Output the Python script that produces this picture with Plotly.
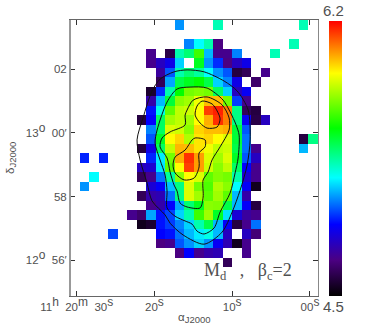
import numpy as np
import plotly.graph_objects as go

_ = None

# RA seconds (after 11h 20m) and Dec arcmin (relative to 13 00) of the cell centres
ra_cells = 30.25 - 1.229 * np.arange(26)
dec_cells = 3.40 - 0.2996 * np.arange(29)

# log column density per cell, top row first
z_rows = [
    [_]*11 + [5.11, _, _, _, 5.32] + [_]*8 + [5.32, _],
    [_]*26,
    [_]*12 + [5.09, 5.23, 5.33, 4.72] + [_]*7 + [5.32, _, _],
    [_]*8 + [4.74, _, 4.62, 5.33, 5.40, 5.62, 5.15, 4.74, 4.74, 5.09, _, _, _, 5.32] + [_]*4,
    [_]*8 + [4.74, 4.83, 4.90, 5.18, _, 5.50, 5.11, 4.99, 4.72, 4.83, 4.90] + [_]*7,
    [_]*9 + [4.77, 5.04, 5.33, 5.40, 5.35, 5.23, 5.11, 5.04, 4.61, 4.65, _, 4.74] + [_]*5,
    [_]*9 + [4.65, 5.13, 5.45, 5.50, 5.54, 5.45, 5.18, 5.09, 4.90, _, 4.68] + [_]*6,
    [_]*8 + [4.58, 4.99, 5.33, 5.54, 5.69, 5.71, 5.69, 5.42, 5.18, 4.83, 4.92] + [_]*7,
    [_]*8 + [4.79, 5.15, 5.47, 5.72, 5.75, 5.86, 5.96, 5.96, 5.69, 5.01, 4.74] + [_]*7,
    [_]*8 + [4.96, 5.26, 5.66, 5.79, 5.81, 5.88, 6.12, 6.16, 6.04, 5.38, 4.65, 4.61] + [_]*6,
    [_]*7 + [4.61, 4.94, 5.42, 5.75, 5.79, 5.75, 5.88, 5.98, 6.14, 6.04, 5.38, 4.92, 4.62, 4.83] + [_]*5,
    [_]*8 + [5.09, 5.42, 5.83, 5.81, 5.72, 5.93, 5.96, 5.96, 5.98, 5.47, 5.04] + [_]*7,
    [_]*8 + [5.04, 5.49, 5.88, 5.93, 5.77, 5.91, 5.93, 5.88, 5.83, 5.47, 5.07] + [_]*5 + [4.61, 5.38],
    [_]*7 + [4.61, 4.90, 5.42, 5.79, 5.97, 5.96, 5.91, 5.86, 5.79, 5.81, 5.45, 5.07, 4.74] + [_]*4 + [5.15, _],
    [_, 4.98, _, 4.98] + [_]*4 + [4.98, 5.21, 5.69, 5.98, 6.14, 6.00, 5.83, 5.75, 5.83, 5.49, 5.04, 4.83] + [_]*6,
    [_]*7 + [4.83, 4.86, 5.20, 5.66, 5.88, 6.12, 6.00, 5.81, 5.72, 5.79, 5.42, 4.94, 4.74] + [_]*6,
    [_, _, 5.23] + [_]*4 + [4.65, 4.74, 5.07, 5.35, 5.72, 5.88, 5.83, 5.66, 5.71, 5.69, 5.33, 4.86, 4.74] + [_]*6,
    [_, 5.11] + [_]*6 + [4.87, 4.93, 5.16, 5.38, 5.83, 5.69, 5.64, 5.77, 5.72, 5.23, 4.93, 4.55] + [_]*6,
    [_]*7 + [4.65, 4.79, 4.81, 5.07, 5.38, 5.83, 5.75, 5.66, 5.75, 5.66, 5.15, 4.79] + [_]*7,
    [_]*8 + [4.74, 4.79, 4.94, 5.13, 5.40, 5.50, 5.72, 5.71, 5.45, 5.15, 4.93, 4.61] + [_]*6,
    [_]*6 + [4.74, 4.68, 5.13, 4.96, 5.02, 5.18, 5.33, 5.62, 5.75, 5.49, 5.20, 4.87, 4.77, 4.74] + [_]*6,
    [_]*7 + [4.55, 4.58, 4.96, 5.01, 5.09, 5.18, 5.33, 5.45, 5.15, 4.93, 4.61, 4.74, 5.07] + [_]*6,
    [_]*4 + [5.02] + [_]*4 + [4.94, 4.96, 5.07, 5.15, 5.21, 5.26, 5.15, 4.83, _, 4.83, 4.70] + [_]*6,
    [_]*9 + [4.72, 4.74, 5.04, 5.11, 5.18, 5.11, 4.92, 4.81, 4.55, 4.74] + [_]*7,
    [_]*11 + [4.72, 4.94, 4.74, 4.79, 4.81, _, _, 4.74] + [_]*7,
    [_]*16 + [4.65] + [_]*9,
    [_]*26,
    [_]*26,
    [_]*26,
]

# contours
outer_ra = [22.24, 21.85, 20.95, 20.31, 18.63, 17.99, 16.32, 13.62, 11.30, 10.01, 8.98, 8.08, 7.70, 7.95, 9.37, 11.04, 13.62, 15.80, 17.48, 19.28, 20.31, 21.47, 22.24]
outer_dec = [-0.22, -0.85, -1.58, -2.14, -2.58, -2.84, -3.21, -3.50, -3.12, -2.49, -1.80, -1.01, -0.22, 0.72, 1.32, 1.63, 1.92, 1.98, 1.92, 1.69, 1.32, 0.47, -0.22]

mid_ra = [11.17, 10.27, 9.50, 9.11, 9.24, 9.63, 10.27, 11.56, 12.33, 13.62, 14.52, 15.16, 16.06, 17.35, 18.38, 18.38, 18.63, 19.28, 19.92, 19.66, 18.38, 17.09, 15.42, 13.23, 11.17]
mid_dec = [1.03, 0.66, 0.25, -0.07, -0.79, -1.26, -1.89, -2.49, -2.99, -3.18, -3.09, -2.87, -2.77, -2.62, -2.36, -1.83, -1.33, -0.85, -0.32, 0.09, 0.97, 1.38, 1.44, 1.41, 1.03]

inner_ra = [15.80, 15.03, 13.23, 11.30, 10.40, 10.40, 11.56, 12.59, 13.10, 13.74, 13.74, 14.13, 15.80, 16.70, 17.09, 17.48, 17.99, 18.38, 19.28, 19.02, 17.99, 16.06, 16.06, 15.80]
inner_dec = [0.72, 1.03, 1.13, 0.88, 0.47, 0.09, -0.44, -0.85, -1.23, -1.48, -2.02, -2.36, -2.33, -2.21, -1.83, -1.64, -1.23, -0.79, -0.44, -0.16, 0.03, 0.25, 0.56, 0.72]

peak_n_ra = [14.52, 13.87, 12.59, 11.94, 11.56, 11.94, 13.23, 14.13, 14.77, 14.52]
peak_n_dec = [0.845, 1.00, 0.91, 0.69, 0.44, 0.185, 0.15, 0.31, 0.56, 0.845]

peak_s_ra = [14.77, 13.49, 13.49, 14.26, 14.26, 14.90, 16.19, 17.35, 17.61, 17.35, 16.06, 15.16, 14.77]
peak_s_dec = [-0.16, -0.22, -0.44, -0.63, -1.07, -1.42, -1.48, -1.26, -1.01, -0.76, -0.54, -0.22, -0.16]

contours = [
    (outer_ra, outer_dec),
    (mid_ra, mid_dec),
    (inner_ra, inner_dec),
    (peak_n_ra, peak_n_dec),
    (peak_s_ra, peak_s_dec),
]

colours = [
    [0.0, "#000000"],
    [0.13, "#4b0082"],
    [0.26, "#0000ff"],
    [0.43, "#00ffff"],
    [0.61, "#00ff00"],
    [0.81, "#ffff00"],
    [1.0, "#ff0000"],
]


def up(s):
    return '<sup><span style="font-size:12px">' + s + "</span></sup>"


def low(s):
    return '<sub><span style="font-size:9.5px">' + s + "</span></sub>"


x_ticks = [30, 20, 10, 0]
x_labels = ["11" + up("h") + "  20" + up("m") + "  30" + up("s"), "20" + up("s"), "10" + up("s"), "00" + up("s")]
y_ticks = [2, 0, -2, -4]
y_labels = ["02", "13" + up("o") + "  00′", "58", "12" + up("o") + "  56′"]

TXT = "#505050"
FONT = "Liberation Sans"

fig = go.Figure()
fig.add_trace(go.Heatmap(
    x=ra_cells, y=dec_cells, z=z_rows,
    zmin=4.5, zmax=6.2, colorscale=colours,
    hoverinfo="skip",
    colorbar=dict(
        x=1.044, xanchor="left", xpad=0, y=0, yanchor="bottom", ypad=0,
        len=0.996, thickness=12.5, showticklabels=False, ticks="",
        outlinewidth=0,
    ),
))
for cx, cy in contours:
    fig.add_trace(go.Scatter(
        x=cx, y=cy, mode="lines", showlegend=False, hoverinfo="skip",
        line=dict(color="#111111", width=1, shape="spline", smoothing=0.8),
    ))

fig.update_xaxes(
    range=[30.86, -1.03], tickvals=x_ticks, ticktext=x_labels,
    ticks="inside", ticklen=5, tickcolor="#333333", tickwidth=1,
    showline=True, linecolor="#666666", linewidth=1, mirror="ticks",
    showgrid=False, zeroline=False, tickangle=0,
    tickfont=dict(family=FONT, size=11.5, color=TXT),
)
fig.update_yaxes(
    range=[-5.13, 3.55], tickvals=y_ticks, ticktext=y_labels,
    ticks="inside", ticklen=5, tickcolor="#333333", tickwidth=1,
    showline=True, linecolor="#888888", linewidth=1, mirror="ticks",
    showgrid=False, zeroline=False,
    tickfont=dict(family=FONT, size=11.5, color=TXT),
)
# left spine is heavier than the other three
fig.add_shape(type="line", xref="paper", yref="paper", x0=0, x1=0, y0=0, y1=1,
              line=dict(color="#999999", width=2))


def note(x, y, text, size, family=FONT, angle=0):
    fig.add_annotation(xref="paper", yref="paper", x=x, y=y, showarrow=False,
                       xanchor="center", yanchor="middle", textangle=angle,
                       text=text, font=dict(family=family, size=size, color=TXT))


note(1.064, 1.035, "6.2", 15)
note(1.064, -0.037, "4.5", 15)
note(0.716, 0.087, "M<sub>d</sub>   ,   β<sub>c</sub>=2", 18, family="Liberation Serif")
note(0.504, -0.08, "α" + low("J2000"), 11.5)
note(-0.238, 0.5, "δ" + low("J2000"), 11.5, angle=-90)

fig.update_layout(
    width=381, height=327,
    margin=dict(l=70, r=63, t=20, b=31, pad=0),
    plot_bgcolor="white", paper_bgcolor="white",
    showlegend=False,
)
fig.write_html("out.html", config={"displayModeBar": False},
               post_script="document.body.style.margin='0';")
